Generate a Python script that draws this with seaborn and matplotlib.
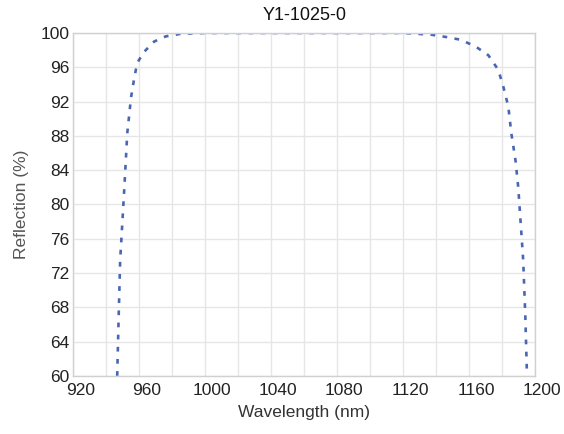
import matplotlib
matplotlib.use("Agg")
import matplotlib.pyplot as plt
import matplotlib.transforms as mtransforms
import seaborn as sns
import pandas as pd

wavelength = [946.6, 947.5, 948.4, 950.8, 952.7, 955.0, 956.9, 958.7, 962.9, 969.0,
              976.0, 985.0, 1000, 1040, 1080, 1120, 1137, 1147, 1155, 1164,
              1171.6, 1177.6, 1180.7, 1183.7, 1185.5, 1188.0, 1189.7, 1192.7, 1194.0, 1195.0]
reflection = [60.0, 67.0, 73.5, 81.5, 88.3, 92.5, 94.7, 96.5, 97.8, 99.0,
              99.6, 99.9, 100, 100, 100, 100, 99.8, 99.5, 99.2, 98.4,
              97.4, 95.7, 93.7, 91.4, 88.3, 85.2, 82.0, 73.5, 66.9, 60.0]
xticks = [920, 960, 1000, 1040, 1080, 1120, 1160, 1200]
yticks = [60, 64, 68, 72, 76, 80, 84, 88, 92, 96, 100]

df = pd.DataFrame({"Wavelength": wavelength, "Reflection": reflection})

sns.set_style("whitegrid")
plt.rcParams['font.family'] = ['Liberation Sans', 'DejaVu Sans']

fig = plt.figure(figsize=(5.64, 4.34), dpi=100)
ax = fig.add_axes([0.130, 0.134, 0.819, 0.790])
sns.lineplot(data=df, x="Wavelength", y="Reflection", ax=ax, color="#4a66b3",
             linewidth=1.9, linestyle=(0, (1.8, 2.8)), sort=False)

ax.set_xlim(920, 1200)
ax.set_ylim(60, 100)
ax.set_xticks(xticks)
ax.set_xticks(range(940, 1200, 40), minor=True)
ax.set_yticks(yticks)
ax.grid(True, which="both", color="#e6e6e6", linewidth=1.0)
for s in ax.spines.values():
    s.set_color("#d0d0d0")
    s.set_linewidth(1.0)
ax.tick_params(axis="both", which="both", length=0, labelsize=12.5, colors="#222222")
ax.tick_params(axis="x", pad=5)
ax.tick_params(axis="y", pad=3)
offset = mtransforms.ScaledTranslation(0.07, 0, fig.dpi_scale_trans)
for lbl in ax.get_xticklabels():
    lbl.set_transform(lbl.get_transform() + offset)
ax.set_xlabel("Wavelength (nm)", fontsize=12.5, color="#333333", labelpad=5)
ax.set_ylabel("Reflection (%)", fontsize=12.5, color="#555555", labelpad=8)
ax.set_title("Y1-1025-0", fontsize=13, color="#111111", pad=9)

fig.savefig("out.png", dpi=100, facecolor="white")
